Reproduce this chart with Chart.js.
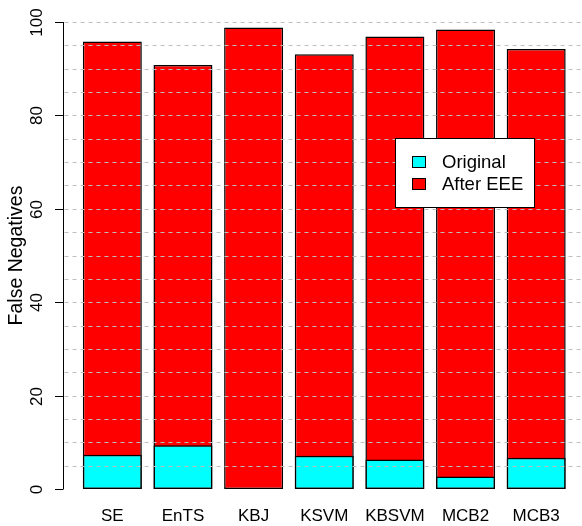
<!DOCTYPE html>
<html>
<head>
<meta charset="utf-8">
<script src="https://cdn.jsdelivr.net/npm/chart.js@4/dist/chart.umd.min.js"></script>
<style>
  html, body { margin: 0; padding: 0; background: #ffffff; }
  #wrap { width: 582px; height: 526px; }
</style>
</head>
<body>
<div id="wrap"><canvas id="c" width="582" height="526"></canvas></div>
<script>
// Classifiers on the x axis
const categories = ['SE', 'EnTS', 'KBJ', 'KSVM', 'KBSVM', 'MCB2', 'MCB3'];
// False negatives per classifier
const original = [7.35, 9.35, 0, 7.1, 6.3, 2.65, 6.7];
const afterEEE = [95.8, 90.8, 98.8, 93.1, 96.9, 98.4, 94.2];
// Axis ticks and dashed reference lines
const yTicks = [0, 20, 40, 60, 80, 100];
const gridValues = [5, 10, 15, 20, 25, 30, 35, 40, 45, 50, 55, 60, 65, 70, 75, 80, 85, 90, 95, 100];

const FONT = '"Liberation Sans", Arial, Helvetica, sans-serif';

// R-style left axis: line, ticks, vertical labels and title
const rAxisPlugin = {
  id: 'rAxis',
  afterDatasetsDraw(chart) {
    const ctx = chart.ctx;
    const y = chart.scales.y;
    const ax = 63.5;
    ctx.save();
    // dashed horizontal reference lines, drawn above the bars
    ctx.strokeStyle = '#bebebe';
    ctx.lineWidth = 1;
    ctx.setLineDash([4, 4]);
    gridValues.forEach(v => {
      const py = Math.round(y.getPixelForValue(v)) + 0.5;
      ctx.beginPath();
      ctx.moveTo(ax + 1, py);
      ctx.lineTo(chart.width, py);
      ctx.stroke();
    });
    ctx.setLineDash([]);
    // axis line and ticks
    ctx.strokeStyle = '#000000';
    ctx.beginPath();
    ctx.moveTo(ax, y.getPixelForValue(yTicks[0]));
    ctx.lineTo(ax, y.getPixelForValue(yTicks[yTicks.length - 1]));
    ctx.stroke();
    ctx.fillStyle = '#000000';
    ctx.font = '17px ' + FONT;
    ctx.textAlign = 'center';
    ctx.textBaseline = 'middle';
    yTicks.forEach(v => {
      const py = Math.round(y.getPixelForValue(v)) + 0.5;
      ctx.beginPath();
      ctx.moveTo(55, py);
      ctx.lineTo(ax, py);
      ctx.stroke();
      ctx.save();
      ctx.translate(37, py);
      ctx.rotate(-Math.PI / 2);
      ctx.fillText(String(v), 0, 0);
      ctx.restore();
    });
    // axis title
    ctx.save();
    ctx.font = '19.5px ' + FONT;
    ctx.translate(17, (y.top + y.bottom) / 2);
    ctx.rotate(-Math.PI / 2);
    ctx.fillText('False Negatives', 0, 0);
    ctx.restore();
    ctx.restore();
  }
};

// Boxed legend inside the plot
const boxLegendPlugin = {
  id: 'boxLegend',
  afterDraw(chart) {
    const ctx = chart.ctx;
    const bx = 395.5, by = 138.5, bw = 139, bh = 69;
    ctx.save();
    ctx.fillStyle = '#ffffff';
    ctx.fillRect(bx, by, bw, bh);
    ctx.strokeStyle = '#000000';
    ctx.lineWidth = 1;
    ctx.strokeRect(bx, by, bw, bh);
    ctx.font = '18.5px ' + FONT;
    ctx.textAlign = 'left';
    ctx.textBaseline = 'middle';
    const rows = [162, 184];
    chart.data.datasets.forEach((ds, i) => {
      const cy = rows[i];
      ctx.fillStyle = ds.backgroundColor;
      ctx.fillRect(412.5, cy - 5.5, 13, 11);
      ctx.strokeRect(412.5, cy - 5.5, 13, 11);
      ctx.fillStyle = '#000000';
      ctx.fillText(ds.label, 442, cy + 1);
    });
    ctx.restore();
  }
};

const barStyle = {
  borderColor: '#000000',
  borderWidth: 1.5,
  borderSkipped: false,
  grouped: false,
  barPercentage: 0.835,
  categoryPercentage: 1
};

new Chart(document.getElementById('c'), {
  type: 'bar',
  data: {
    labels: categories,
    datasets: [
      Object.assign({ label: 'Original', data: original, backgroundColor: '#00ffff' }, barStyle),
      Object.assign({ label: 'After EEE', data: afterEEE, backgroundColor: '#ff0000' }, barStyle)
    ]
  },
  options: {
    responsive: false,
    animation: false,
    devicePixelRatio: 1,
    layout: { padding: { left: 77, right: 10.5, top: 22, bottom: 0 } },
    plugins: {
      legend: { display: false },
      tooltip: { enabled: false }
    },
    scales: {
      x: {
        offset: true,
        grid: { display: false, drawTicks: false },
        border: { display: false },
        ticks: {
          color: '#000000',
          font: { family: FONT, size: 17 },
          padding: 17,
          maxRotation: 0
        },
        afterFit(scale) { scale.height = 37; }
      },
      y: {
        display: false,
        min: 0,
        max: 100
      }
    }
  },
  plugins: [rAxisPlugin, boxLegendPlugin]
});
</script>
</body>
</html>
